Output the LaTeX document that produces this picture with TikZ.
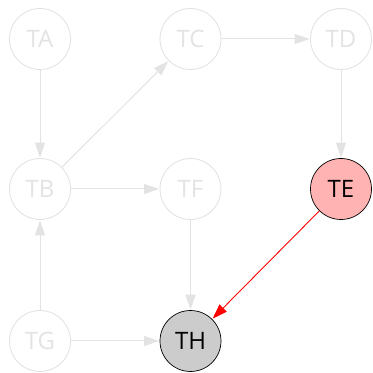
\documentclass[tikz,border=0pt]{standalone}
\usepackage{fontspec}
\setmainfont{Open Sans}
\usetikzlibrary{arrows.meta}
\definecolor{faint}{HTML}{E3E3E3}
\definecolor{pinkfill}{HTML}{FFB3B3}
\definecolor{grayfill}{HTML}{CCCCCC}
\tikzset{
  vert/.style={circle, minimum size=61pt, inner sep=0pt, line width=0.9pt, font=\fontsize{24}{26}\selectfont},
  faded/.style={vert, draw=faint, text=faint},
  hot/.style={vert, draw=black, fill=pinkfill, text=black, line width=0.7pt},
  goal/.style={vert, draw=black, fill=grayfill, text=black, line width=0.7pt},
  fedge/.style={draw=faint, line width=1pt, -{Triangle[length=15pt,width=10pt]}, shorten >=0.5pt},
  redge/.style={draw=red, line width=0.9pt, -{Triangle[length=15pt,width=10pt]}, shorten >=0.5pt}
}
\begin{document}
\begin{tikzpicture}[x=1pt,y=1pt]
\useasboundingbox (0,0) rectangle (373,373);
\node[faded] (TA) at (40,334) {TA};
\node[faded] (TC) at (190.5,334) {TC};
\node[faded] (TD) at (341,334) {TD};
\node[faded] (TB) at (40,184) {TB};
\node[faded] (TF) at (190.5,184) {TF};
\node[hot] (TE) at (341,184) {TE};
\node[faded] (TG) at (40,32) {TG};
\node[goal] (TH) at (190.5,32) {TH};
\draw[fedge] (TA) -- (TB);
\draw[fedge] (TB) -- (TC);
\draw[fedge] (TC) -- (TD);
\draw[fedge] (TD) -- (TE);
\draw[fedge] (TB) -- (TF);
\draw[fedge] (TF) -- (TH);
\draw[fedge] (TG) -- (TB);
\draw[fedge] (TG) -- (TH);
\draw[redge] (TE) -- (TH);
\end{tikzpicture}
\end{document}
